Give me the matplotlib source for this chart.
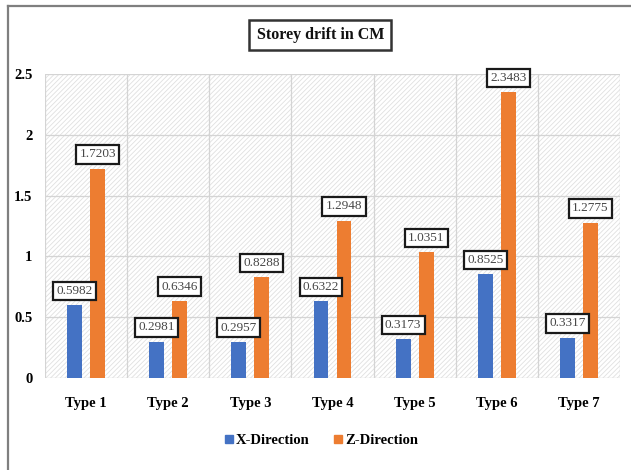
import matplotlib
matplotlib.use("Agg")
import matplotlib.pyplot as plt
import numpy as np
from matplotlib.lines import Line2D

categories = ["Type 1", "Type 2", "Type 3", "Type 4", "Type 5", "Type 6", "Type 7"]
x_direction = [0.5982, 0.2981, 0.2957, 0.6322, 0.3173, 0.8525, 0.3317]
z_direction = [1.7203, 0.6346, 0.8288, 1.2948, 1.0351, 2.3483, 1.2775]
y_ticks = [0, 0.5, 1, 1.5, 2, 2.5]
y_tick_labels = ["0", "0.5", "1", "1.5", "2", "2.5"]
title = "Storey drift in CM"

BLUE = "#4472C4"
ORANGE = "#ED7D31"
SERIF = "Liberation Serif"

plt.rcParams["hatch.color"] = "#e0e0e0"
plt.rcParams["hatch.linewidth"] = 0.6

fig = plt.figure(figsize=(6.31, 4.70), dpi=100)
fig.patch.set_facecolor("white")
ax = fig.add_axes([0.0713, 0.1957, 0.9113, 0.6469])

# hatched plot area
ax.patch.set_facecolor("white")
ax.patch.set_hatch("///////")
ax.patch.set_edgecolor("#e0e0e0")
ax.patch.set_linewidth(0)

x = np.arange(len(categories))
bw = 0.18
off = 0.14
b1 = ax.bar(x - off, x_direction, bw, color=BLUE, label="X-Direction", zorder=3)
b2 = ax.bar(x + off, z_direction, bw, color=ORANGE, label="Z-Direction", zorder=3)

ax.set_xlim(-0.5, len(categories) - 0.5)
ax.set_ylim(0, 2.5)
ax.set_yticks(y_ticks)
ax.set_yticklabels(y_tick_labels, fontfamily=SERIF, fontweight="bold", fontsize=10.5)
ax.set_xticks(x)
ax.set_xticklabels(categories, fontfamily=SERIF, fontweight="bold", fontsize=10.5)
ax.tick_params(axis="both", length=0)
ax.tick_params(axis="x", pad=14)
ax.tick_params(axis="y", pad=9)

# gridlines: horizontal at ticks, vertical between categories
for yv in y_ticks[1:]:
    ax.axhline(yv, color="#d4d4d4", lw=0.9, zorder=1)
for xv in np.arange(-0.5, len(categories) + 0.5, 1):
    ax.axvline(xv, color="#d4d4d4", lw=0.9, zorder=1)
for s in ax.spines.values():
    s.set_visible(False)
ax.axhline(0, color="#d9d9d9", lw=1.0, zorder=2)

def label_bars(bars, vals):
    for rect, v in zip(bars, vals):
        ax.annotate(f"{v}",
                    xy=(rect.get_x() + rect.get_width() / 2, v),
                    xytext=(0, 6), textcoords="offset points",
                    ha="center", va="bottom", fontsize=9.5,
                    fontfamily=SERIF, color="#474747", zorder=5,
                    bbox=dict(boxstyle="square,pad=0.25", fc="white",
                              ec="#1a1a1a", lw=1.6))

label_bars(b1, x_direction)
label_bars(b2, z_direction)

fig.text(0.5075, 0.925, title, ha="center", va="center", fontsize=11.5,
         fontfamily=SERIF, fontweight="bold", color="#111111",
         bbox=dict(boxstyle="square,pad=0.45", fc="white", ec="#333333", lw=1.8))

handles = [Line2D([], [], marker="s", ls="none", color=BLUE, markersize=6),
           Line2D([], [], marker="s", ls="none", color=ORANGE, markersize=6)]
fig.legend(handles, ["X-Direction", "Z-Direction"], loc="center",
           bbox_to_anchor=(0.508, 0.063), ncol=2, frameon=False,
           prop=dict(family=SERIF, weight="bold", size=10.5),
           handletextpad=0.05, columnspacing=1.6, handlelength=0.8)

# outer border (top and left edges)
fig.add_artist(Line2D([0.0127, 1.0], [0.9862, 0.9862], transform=fig.transFigure,
                      color="#7f7f7f", lw=1.6))
fig.add_artist(Line2D([0.0127, 0.0127], [0.0, 0.9862], transform=fig.transFigure,
                      color="#7f7f7f", lw=1.6))

fig.savefig("out.png", dpi=100)
